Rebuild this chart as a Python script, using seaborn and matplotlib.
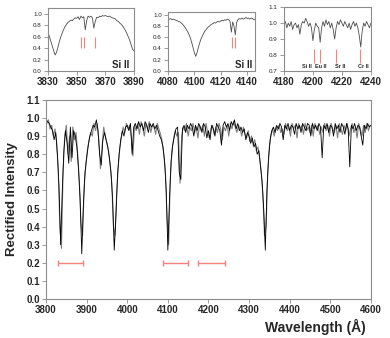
import numpy as np
import pandas as pd
import matplotlib.pyplot as plt
import seaborn as sns

# main spectrum, two overlaid exposures (black on 4 A grid, grey offset by 2 A)
wl_black = np.arange(3800, 4601, 4)
flux_black = [
    0.99, 0.98, 0.97, 0.95, 0.93, 0.88, 0.92, 0.80, 0.62, 0.30,
    0.60, 0.82, 0.93, 0.86, 0.75, 0.95, 0.78, 0.93, 0.90, 0.84,
    0.72, 0.55, 0.25, 0.52, 0.70, 0.78, 0.85, 0.90, 0.93, 0.96,
    0.95, 0.99, 0.93, 0.80, 0.74, 0.88, 0.92, 0.88, 0.84, 0.78,
    0.70, 0.55, 0.27, 0.45, 0.68, 0.80, 0.88, 0.93, 0.90, 0.95,
    0.96, 0.93, 0.97, 0.80, 0.95, 0.97, 0.94, 0.98, 0.95, 0.97,
    0.93, 0.98, 0.96, 0.92, 0.97, 0.95, 0.97, 0.94, 0.96, 0.93,
    0.90, 0.88, 0.84, 0.76, 0.60, 0.27, 0.55, 0.76, 0.85, 0.90,
    0.94, 0.95, 0.70, 0.66, 0.94, 0.96, 0.92, 0.96, 0.94, 0.97,
    0.95, 0.90, 0.96, 0.93, 0.97, 0.95, 0.92, 0.97, 0.95, 0.89,
    0.93, 0.88, 0.96, 0.94, 0.90, 0.97, 0.95, 0.93, 0.85, 0.96,
    0.98, 0.95, 0.97, 0.93, 0.98, 0.96, 0.99, 0.94, 0.97, 0.93,
    0.95, 0.92, 0.94, 0.88, 0.92, 0.90, 0.86, 0.89, 0.84, 0.86,
    0.80, 0.82, 0.74, 0.65, 0.50, 0.27, 0.60, 0.78, 0.88, 0.93,
    0.95, 0.92, 0.96, 0.94, 0.97, 0.95, 0.88, 0.96, 0.94, 0.97,
    0.93, 0.96, 0.95, 0.91, 0.97, 0.94, 0.96, 0.92, 0.97, 0.95,
    0.93, 0.97, 0.96, 0.90, 0.97, 0.94, 0.96, 0.93, 0.97, 0.95,
    0.78, 0.96, 0.94, 0.97, 0.92, 0.96, 0.95, 0.90, 0.97, 0.94,
    0.96, 0.92, 0.97, 0.95, 0.91, 0.97, 0.94, 0.73, 0.96, 0.94,
    0.97, 0.93, 0.96, 0.95, 0.90, 0.85, 0.96, 0.94, 0.97, 0.95,
    0.96,
]
wl_grey = np.arange(3802, 4600, 4)
flux_grey = [
    0.97, 0.99, 0.94, 0.96, 0.90, 0.94, 0.87, 0.72, 0.40, 0.28,
    0.70, 0.90, 0.96, 0.80, 0.90, 0.76, 0.95, 0.88, 0.92, 0.80,
    0.65, 0.42, 0.35, 0.62, 0.74, 0.82, 0.88, 0.92, 0.90, 0.97,
    0.93, 0.97, 0.88, 0.72, 0.84, 0.95, 0.90, 0.86, 0.82, 0.74,
    0.64, 0.40, 0.35, 0.58, 0.74, 0.84, 0.90, 0.95, 0.92, 0.97,
    0.94, 0.96, 0.90, 0.79, 0.96, 0.93, 0.97, 0.91, 0.98, 0.95,
    0.90, 0.97, 0.94, 0.98, 0.92, 0.96, 0.95, 0.91, 0.97, 0.94,
    0.91, 0.87, 0.80, 0.70, 0.45, 0.30, 0.66, 0.82, 0.88, 0.93,
    0.90, 0.92, 0.64, 0.90, 0.95, 0.93, 0.97, 0.90, 0.95, 0.93,
    0.97, 0.92, 0.95, 0.89, 0.96, 0.93, 0.96, 0.90, 0.97, 0.92,
    0.89, 0.94, 0.96, 0.91, 0.95, 0.92, 0.97, 0.94, 0.88, 0.95,
    0.93, 0.96, 0.90, 0.97, 0.94, 0.98, 0.95, 0.92, 0.96, 0.94,
    0.90, 0.95, 0.91, 0.89, 0.93, 0.87, 0.90, 0.85, 0.88, 0.82,
    0.84, 0.78, 0.70, 0.58, 0.35, 0.40, 0.70, 0.84, 0.91, 0.94,
    0.90, 0.95, 0.93, 0.96, 0.92, 0.94, 0.91, 0.97, 0.93, 0.95,
    0.90, 0.97, 0.94, 0.96, 0.89, 0.97, 0.94, 0.96, 0.91, 0.97,
    0.93, 0.95, 0.92, 0.96, 0.90, 0.97, 0.94, 0.96, 0.91, 0.95,
    0.92, 0.97, 0.93, 0.96, 0.90, 0.97, 0.94, 0.92, 0.96, 0.89,
    0.97, 0.94, 0.91, 0.96, 0.93, 0.97, 0.90, 0.94, 0.97, 0.92,
    0.95, 0.89, 0.97, 0.94, 0.90, 0.96, 0.92, 0.97, 0.93, 0.96,
]

# zoomed windows (1 A steps)
wl_in1 = np.arange(3830, 3891)
flux_in1 = [
    0.68, 0.60, 0.52, 0.44, 0.35, 0.28, 0.33, 0.42, 0.52, 0.60,
    0.67, 0.73, 0.78, 0.82, 0.85, 0.87, 0.89, 0.88, 0.91, 0.93,
    0.92, 0.95, 0.90, 0.96, 0.93, 0.95, 0.72, 0.88, 0.96, 0.94,
    0.96, 0.93, 0.75, 0.87, 0.94, 0.93, 0.96, 0.95, 0.97, 0.96,
    0.97, 0.96, 0.95, 0.96, 0.94, 0.93, 0.92, 0.91, 0.88, 0.87,
    0.84, 0.82, 0.79, 0.75, 0.71, 0.66, 0.60, 0.54, 0.46, 0.38,
    0.35,
]
wl_in2 = np.arange(4080, 4147)
flux_in2 = [
    0.93, 0.92, 0.93, 0.91, 0.92, 0.91, 0.90, 0.89, 0.88, 0.87,
    0.85, 0.83, 0.80, 0.77, 0.73, 0.69, 0.64, 0.58, 0.50, 0.41,
    0.32, 0.26, 0.33, 0.42, 0.50, 0.57, 0.62, 0.67, 0.71, 0.74,
    0.77, 0.79, 0.81, 0.83, 0.84, 0.86, 0.85, 0.87, 0.88, 0.87,
    0.89, 0.90, 0.89, 0.91, 0.90, 0.92, 0.91, 0.88, 0.69, 0.87,
    0.80, 0.64, 0.86, 0.91, 0.93, 0.92, 0.94, 0.92, 0.93, 0.95,
    0.93, 0.94, 0.92, 0.94, 0.93, 0.91, 0.92,
]
wl_in3 = np.arange(4180, 4241)
flux_in3 = [
    0.99, 1.01, 0.97, 1.00, 0.98, 1.01, 0.96, 0.99, 1.00, 0.97,
    0.99, 0.93, 0.99, 1.01, 1.00, 1.03, 1.01, 0.98, 1.00, 0.97,
    0.89, 0.96, 1.00, 0.98, 0.97, 0.88, 0.97, 1.01, 0.98, 1.02,
    0.99, 1.01, 0.97, 1.00, 0.96, 0.90, 0.97, 1.01, 0.99, 1.02,
    1.00, 0.98, 1.01, 0.99, 0.97, 1.00, 0.96, 0.99, 1.01, 0.98,
    1.00, 0.97, 0.92, 0.85, 0.95, 1.00, 0.98, 1.01, 0.99, 0.97,
    1.00,
]

# line identifications
marks_in1 = [3853, 3855.3, 3862.8]
marks_in2 = [4128.3, 4130.8]
marks_in3 = [4200.8, 4205.2, 4216.2, 4232.6]
ions_in3 = ["Si II", "Eu II", "Sr II", "Cr II"]
ion_x_in3 = [4196.0, 4205.5, 4218.6, 4234.5]

# wavelength windows shown in the insets
win_lo = [3830, 4088, 4175]
win_hi = [3890, 4150, 4240]

sns.set_style("ticks")
plt.rcParams['font.family'] = ['Liberation Sans', 'DejaVu Sans']

SPINE = '#8c8c8c'
RED = '#f4837d'


def style_axes(ax, ylab_size=7, ylab_bold=True):
    for s in ax.spines.values():
        s.set_visible(True)
        s.set_color(SPINE)
        s.set_linewidth(0.8)
    ax.tick_params(length=3, width=0.6, color=SPINE, pad=1.5)
    for t in ax.get_xticklabels():
        t.set_fontsize(7)
        t.set_fontweight('bold')
    for t in ax.get_yticklabels():
        t.set_fontsize(ylab_size)
        t.set_fontweight('bold' if ylab_bold else 'normal')
    ax.set_xlabel('')
    ax.set_ylabel('')


fig = plt.figure(figsize=(3.9, 3.38), dpi=100)

# main panel
ax = fig.add_axes([0.118, 0.1154, 0.833, 0.589])
sns.lineplot(x=wl_grey, y=flux_grey, color='#808080', lw=0.8, ax=ax,
             estimator=None, sort=False)
sns.lineplot(x=wl_black, y=flux_black, color='black', lw=0.6, ax=ax,
             estimator=None, sort=False)
lo = np.array(win_lo, dtype=float)
hi = np.array(win_hi, dtype=float)
ax.errorbar((lo + hi) / 2, [0.2] * 3, xerr=(hi - lo) / 2, fmt='none',
            ecolor=RED, elinewidth=1.0, capsize=2, capthick=1.0)
ax.set_xlim(3800, 4600)
ax.set_ylim(0, 1.1)
ax.set_xticks(np.arange(3800, 4601, 100))
ax.set_yticks(np.round(np.arange(0, 1.11, 0.1), 1))
ax.set_yticklabels([f'{v:.1f}' for v in np.arange(0, 1.11, 0.1)])
style_axes(ax)
ax.set_xlabel('Wavelength (Å)', fontsize=10, fontweight='bold')
ax.set_ylabel('Rectified Intensity', fontsize=9.5, fontweight='bold')
ax.xaxis.set_label_coords(0.83, -0.10)
ax.yaxis.set_label_coords(-0.085, 0.5)

# inset 1
a1 = fig.add_axes([0.123, 0.79, 0.2205, 0.186])
sns.lineplot(x=wl_in1, y=flux_in1, color='#4d4d4d', lw=0.6, ax=a1,
             estimator=None, sort=False)
a1.vlines(marks_in1, 0.4, 0.6, color=RED, lw=0.8)
a1.set_xlim(3830, 3890)
a1.set_ylim(0, 1.1)
a1.set_xticks([3830, 3850, 3870, 3890])
a1.set_yticks(np.round(np.arange(0, 1.01, 0.2), 1))
a1.set_yticklabels([f'{v:.1f}' for v in np.arange(0, 1.01, 0.2)])
style_axes(a1, ylab_size=4.5, ylab_bold=False)
a1.text(3887, 0.05, 'Si II', fontsize=7, fontweight='bold', ha='right')

# inset 2
a2 = fig.add_axes([0.431, 0.79, 0.223, 0.175])
sns.lineplot(x=wl_in2, y=flux_in2, color='#4d4d4d', lw=0.6, ax=a2,
             estimator=None, sort=False)
a2.vlines(marks_in2, 0.4, 0.6, color=RED, lw=0.8)
a2.set_xlim(4080, 4146)
a2.set_ylim(0, 1.05)
a2.set_xticks([4080, 4100, 4120, 4140])
a2.set_yticks(np.round(np.arange(0, 1.01, 0.2), 1))
a2.set_yticklabels([f'{v:.1f}' for v in np.arange(0, 1.01, 0.2)])
style_axes(a2, ylab_size=4.5, ylab_bold=False)
a2.text(4144, 0.05, 'Si II', fontsize=7, fontweight='bold', ha='right')

# inset 3
a3 = fig.add_axes([0.728, 0.79, 0.223, 0.189])
sns.lineplot(x=wl_in3, y=flux_in3, color='#4d4d4d', lw=0.6, ax=a3,
             estimator=None, sort=False)
a3.vlines(marks_in3, 0.75, 0.84, color=RED, lw=0.8)
for xi, name in zip(ion_x_in3, ions_in3):
    a3.text(xi, 0.72, name, fontsize=4, fontweight='bold', ha='center')
a3.set_xlim(4180, 4240)
a3.set_ylim(0.7, 1.1)
a3.set_xticks([4180, 4200, 4220, 4240])
a3.set_yticks(np.round(np.arange(0.7, 1.11, 0.1), 1))
a3.set_yticklabels([f'{v:.1f}' for v in np.arange(0.7, 1.11, 0.1)])
style_axes(a3, ylab_size=4.5, ylab_bold=False)

fig.savefig('out.png', dpi=100)
